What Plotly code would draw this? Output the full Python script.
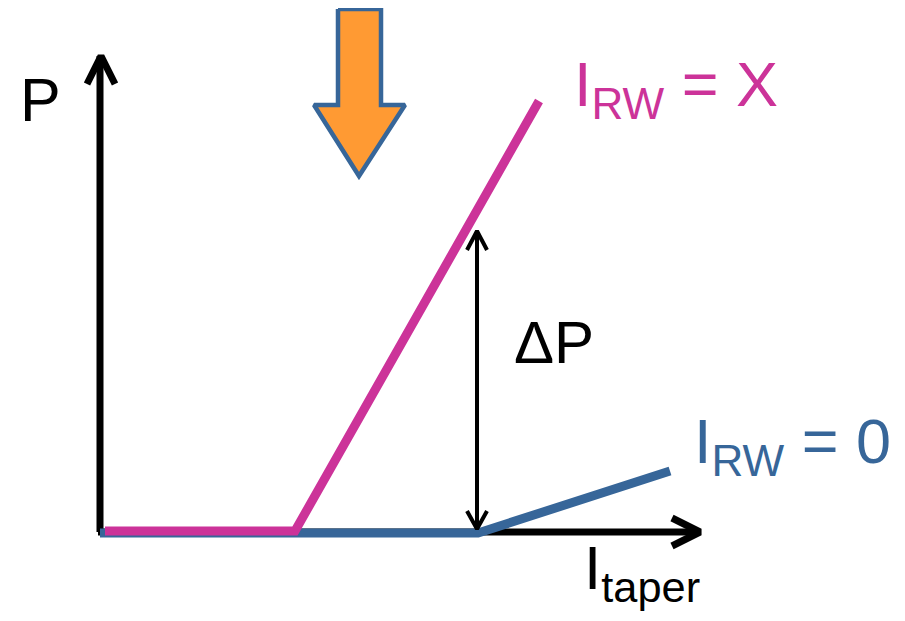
import plotly.graph_objects as go

W, H = 905, 621
OFF = 8  # default page body margin of the html page

# Schematic geometry (pixel-like units, y measured upward from the bottom)
# Curve for I_RW = X (magenta): flat, then steep rise
magenta_x = [105, 295, 539]
magenta_y = [90, 90, 520]
# Curve for I_RW = 0 (blue): flat, then gentle rise
blue_x = [100, 478, 670]
blue_y = [88, 88, 150]

# Axes with open arrow heads
yaxis_x = [100, 100]
yaxis_y = [89, 565]
yhead_x = [87, 101, 115]
yhead_y = [537, 565, 537]
xaxis_x = [98, 700]
xaxis_y = [89, 89]
xhead_x = [672, 700, 672]
xhead_y = [103, 89, 75]

# Delta-P double arrow
dp_x = [477, 477]
dp_y = [94, 389]
dp_top_x = [467, 477, 487]
dp_top_y = [371, 390, 371]
dp_bot_x = [467, 477, 487]
dp_bot_y = [110, 92, 110]

# Orange block arrow
orange_x = [338, 381, 381, 405, 359, 314, 338, 338]
orange_y = [612, 612, 516, 516, 445, 516, 516, 612]

MAGENTA = "#CC3399"
BLUE = "#376699"
ORANGE = "#FF9A33"
FONT = "Liberation Sans, Arial, sans-serif"

fig = go.Figure()

def line(x, y, color, width):
    fig.add_trace(go.Scatter(x=x, y=y, mode="lines",
                             line=dict(color=color, width=width),
                             hoverinfo="skip", showlegend=False))

line(orange_x, orange_y, BLUE, 4.5)
fig.data[-1].update(fill="toself", fillcolor=ORANGE)

line(yaxis_x, yaxis_y, "black", 7)
line(yhead_x, yhead_y, "black", 7)
line(xaxis_x, xaxis_y, "black", 7)
line(xhead_x, xhead_y, "black", 7)
line(blue_x, blue_y, BLUE, 9)
line(magenta_x, magenta_y, MAGENTA, 9)
line(dp_x, dp_y, "black", 4)
line(dp_top_x, dp_top_y, "black", 4)
line(dp_bot_x, dp_bot_y, "black", 4)

def label(text, x, y, color, size):
    fig.add_annotation(x=x, y=y, text=text, showarrow=False,
                       xanchor="left", yanchor="middle",
                       font=dict(family=FONT, size=size, color=color))

label("P", 18, 521, "black", 61)
label("ΔP", 512, 279, "black", 60)
label("I<sub>RW</sub> = X", 572, 533, MAGENTA, 63)
label("I<sub>RW</sub> = 0", 692, 176, BLUE, 63)
label("I<sub>taper</sub>", 582, 49, "black", 62)

fig.update_layout(
    width=W - OFF, height=H - OFF,
    margin=dict(l=0, r=0, t=0, b=0),
    paper_bgcolor="white", plot_bgcolor="white",
    xaxis=dict(range=[OFF, W], visible=False, fixedrange=True),
    yaxis=dict(range=[0, H - OFF], visible=False, fixedrange=True),
    showlegend=False,
)

fig.write_html("out.html")
